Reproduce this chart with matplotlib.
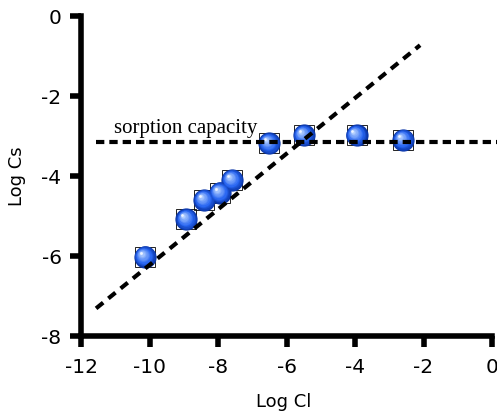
import numpy as np
import matplotlib
matplotlib.use('Agg')
import matplotlib.pyplot as plt
from matplotlib.transforms import offset_copy
from matplotlib.colors import to_rgb

# ---- data ----
log_cl = [-10.13, -8.92, -8.40, -7.94, -7.58, -6.50, -5.49, -3.95, -2.59]
log_cs = [-6.02, -5.08, -4.60, -4.42, -4.10, -3.18, -2.98, -2.98, -3.10]
fit_x = [-11.56, -2.10]
fit_y = [-7.31, -0.73]
cap_x = [-11.56, 0.15]
cap_y = [-3.16, -3.16]
xticks = [-12, -10, -8, -6, -4, -2, 0]
yticks = [0, -2, -4, -6, -8]
cap_label = "sorption capacity"
cap_label_pos = (-11.04, -2.93)

plt.rcParams['axes.unicode_minus'] = False
plt.rcParams['font.family'] = ['DejaVu Sans']

fig = plt.figure(figsize=(4.97, 4.16), dpi=100)
ax = fig.add_axes([81 / 497, 80 / 416, 411 / 497, 320 / 416])
ax.set_xlim(-12, 0)
ax.set_ylim(-8, 0)

# square outline behind spheres
ax.plot(log_cl, log_cs, 's', ms=14.5, mfc='none', mec='black', mew=0.6,
        zorder=2, clip_on=False)

# shaded spheres
D = 16.0
dark = np.array(to_rgb('#0a36a8'))
mid = np.array(to_rgb('#2866f2'))
light = np.array(to_rgb('#b4d0ff'))
n = 12
for i in range(n):
    t = i / (n - 1)
    size = D * (1 - 0.85 * t)
    if t < 0.35:
        col = dark * (1 - t / 0.35) + mid * (t / 0.35)
    else:
        u = (t - 0.35) / 0.65
        col = mid * (1 - u) + light * u
    tr = offset_copy(ax.transData, fig=fig, x=-0.16 * D * t, y=0.16 * D * t,
                     units='points')
    ax.plot(log_cl, log_cs, 'o', ms=size, mfc=col, mec='none', transform=tr,
            zorder=3 + i * 0.01, clip_on=False)
tr = offset_copy(ax.transData, fig=fig, x=-0.19 * D, y=0.19 * D, units='points')
ax.plot(log_cl, log_cs, 'o', ms=D * 0.12, mfc='#eef4ff', mec='none', transform=tr,
        zorder=3.5, clip_on=False)

# dashed lines on top
ax.plot(fit_x, fit_y, color='black', lw=3, dashes=(2.2, 1.6), zorder=5,
        clip_on=False)
ax.plot(cap_x, cap_y, color='black', lw=3, dashes=(2.0, 1.2), zorder=5,
        clip_on=False)

ax.text(cap_label_pos[0], cap_label_pos[1], cap_label, family='Liberation Serif',
        fontsize=15, ha='left', va='baseline', zorder=6)

for s in ['top', 'right']:
    ax.spines[s].set_visible(False)
for s in ['left', 'bottom']:
    ax.spines[s].set_linewidth(4)
ax.set_xticks(xticks)
ax.set_yticks(yticks)
ax.set_xticklabels([str(v) for v in xticks])
ax.set_yticklabels([str(v) for v in yticks])
ax.tick_params(axis='both', direction='out', length=8, width=4, labelsize=14.5)
ax.tick_params(axis='x', pad=8)
ax.tick_params(axis='y', pad=6)

ax.set_xlabel('Log Cl', fontsize=13)
ax.set_ylabel('Log Cs', fontsize=13)
ax.xaxis.set_label_coords(0.494, -0.178)
ax.yaxis.set_label_coords(-0.134, 0.5)

fig.savefig('out.png', dpi=100)
